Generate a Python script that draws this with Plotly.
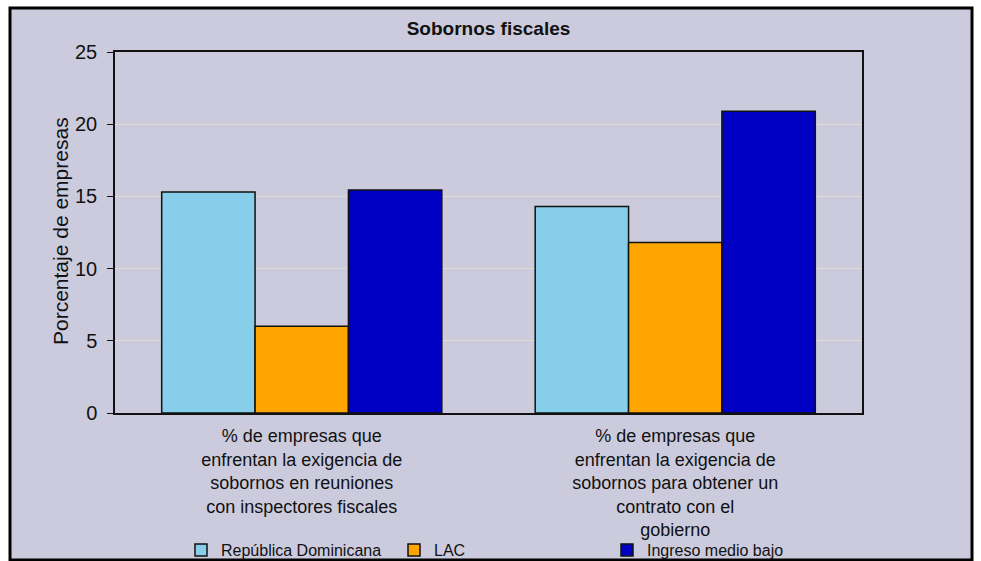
import plotly.graph_objects as go

categories = [
    "% de empresas que<br>enfrentan la exigencia de<br>sobornos en reuniones<br>con inspectores fiscales",
    "% de empresas que<br>enfrentan la exigencia de<br>sobornos para obtener un<br>contrato con el<br>gobierno",
]
series_names = ["República Dominicana", "LAC", "Ingreso medio bajo"]
rep_dom = [15.3, 14.3]
lac = [6.0, 11.8]
ingreso_medio_bajo = [15.45, 20.9]
y_ticks = [0, 5, 10, 15, 20, 25]

colors = ["#87CEEB", "#FFA500", "#0000C4"]
FONT = "Liberation Sans, Arial, sans-serif"
BG = "#CBCBDD"

fig = go.Figure()
for name, vals, col in zip(series_names, [rep_dom, lac, ingreso_medio_bajo], colors):
    fig.add_trace(go.Bar(
        x=categories, y=vals, name=name,
        marker=dict(color=col, line=dict(color="#111111", width=1.5)),
    ))

L, R, T, B = 115, 119, 52, 148
pw, ph = 981 - L - R, 561 - T - B

fig.update_layout(
    width=981, height=561,
    margin=dict(l=L, r=R, t=T, b=B, pad=0, autoexpand=False),
    paper_bgcolor="white",
    plot_bgcolor=BG,
    barmode="group", bargap=0.25, bargroupgap=0,
    font=dict(family=FONT, size=17, color="#111111"),
    title=dict(text="<b>Sobornos fiscales</b>", x=0.5, xref="paper", xanchor="center",
               y=1 - 28 / 561, yanchor="middle", font=dict(size=19, family=FONT)),
    showlegend=True,
    legend=dict(orientation="h", x=(181 - L) / pw, xanchor="left",
                y=(413 - 550) / ph, yanchor="middle",
                bgcolor="rgba(0,0,0,0)", font=dict(size=16, family=FONT),
                entrywidth=168, entrywidthmode="pixels", traceorder="normal"),
    shapes=[dict(type="rect", xref="paper", yref="paper", layer="below",
                 x0=(10 - L) / pw, x1=(972 - L) / pw,
                 y0=(413 - 560) / ph, y1=(413 - 8) / ph,
                 fillcolor=BG, line=dict(color="black", width=3))],
    annotations=[dict(text="Porcentaje de empresas", xref="paper", yref="paper",
                      x=(60 - L) / pw, y=(413 - 231) / ph, textangle=-90, showarrow=False,
                      xanchor="center", yanchor="middle",
                      font=dict(size=21, family=FONT))],
)
fig.update_yaxes(range=[0, 25], tickvals=y_ticks, showgrid=True, gridcolor="#DDDDCC",
                 gridwidth=1, showline=True, linecolor="#111111", linewidth=1.5,
                 mirror=True, ticks="outside", ticklen=6, tickcolor="#111111",
                 ticklabelstandoff=6,
                 tickfont=dict(size=20, family=FONT),
                 zeroline=False)
fig.update_xaxes(showline=True, linecolor="#111111", linewidth=1.5, mirror=True,
                 ticks="", tickfont=dict(size=18, family=FONT), tickangle=0,
                 ticklabelstandoff=6)

fig.write_html("out.html", config={"displayModeBar": False},
               post_script="document.body.style.margin='0';")
